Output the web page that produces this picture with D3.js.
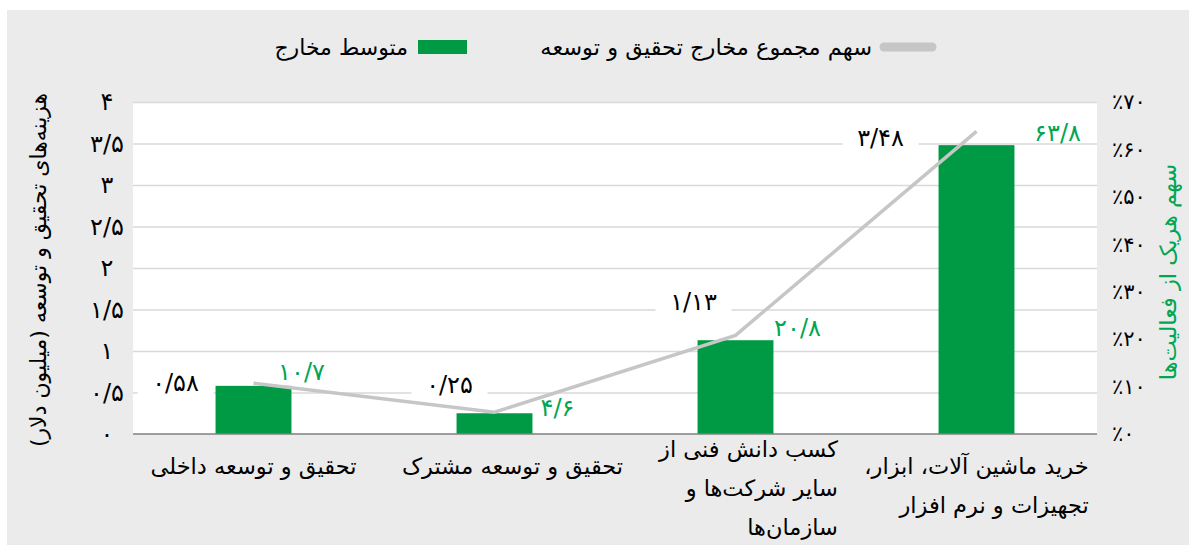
<!DOCTYPE html>
<html>
<head>
<meta charset="utf-8">
<script src="https://cdn.jsdelivr.net/npm/d3@7"></script>
<style>
  html, body { margin: 0; padding: 0; background: #fff; }
  svg { display: block; font-family: "DejaVu Sans", sans-serif; }
</style>
</head>
<body>
<svg id="chart" width="1189" height="545"></svg>
<script>
// --- داده‌ها ---
const categories = [
  ["تحقیق و توسعه داخلی"],
  ["تحقیق و توسعه مشترک"],
  ["کسب دانش فنی از", "سایر شرکت‌ها و", "سازمان‌ها"],
  ["خرید ماشین آلات، ابزار،", "تجهیزات و نرم افزار"]
];
const avgSpend = [0.58, 0.25, 1.13, 3.48];      // میلیون دلار (محور چپ)
const shareOfTotal = [10.7, 4.6, 20.8, 63.8];   // درصد (محور راست)
const leftTicks = [0, 0.5, 1, 1.5, 2, 2.5, 3, 3.5, 4];
const rightTicks = [0, 10, 20, 30, 40, 50, 60, 70];
const legendBar = "متوسط مخارج";
const legendLine = "سهم مجموع مخارج تحقیق و توسعه";
const leftTitle = "هزینه‌های تحقیق و توسعه (میلیون دلار)";
const rightTitle = "سهم هریک از فعالیت‌ها";

// جابجایی دستی برچسب‌ها (مثل فایل اکسل اصلی)
const barLabelNudge = [[-78, -3], [-45, -28], [-42, -38], [-96, -7]];
const lineLabelNudge = [[48, -11], [63, -4], [62, -7], [81, 2]];
const catLabelNudge = [0, 18, 13, 0];

const GREEN = "#009a44";
const GREEN_TEXT = "#00a651";
const LINE_GRAY = "#c6c6c6";

// تبدیل به ارقام فارسی
function fa(v) {
  return String(v).replace(".", "/").replace(/[0-9]/g, d => "۰۱۲۳۴۵۶۷۸۹"[d]);
}

const svg = d3.select("#chart");

// پس‌زمینه
svg.append("rect").attr("x", 7).attr("y", 10).attr("width", 1182).attr("height", 535).attr("fill", "#ebebeb");

const plot = { left: 133, right: 1097, top: 102, bottom: 434 };

svg.append("rect")
  .attr("x", plot.left).attr("y", plot.top)
  .attr("width", plot.right - plot.left).attr("height", plot.bottom - plot.top)
  .attr("fill", "#fff");

const x = d3.scaleBand().domain(d3.range(categories.length)).range([plot.left, plot.right]);
const yLeft = d3.scaleLinear().domain([0, 4]).range([plot.bottom, plot.top]);
const yRight = d3.scaleLinear().domain([0, 70]).range([plot.bottom, plot.top]);
const barW = x.bandwidth() * 0.315;
const cx = i => x(i) + x.bandwidth() / 2;

// خطوط شبکه
svg.append("g")
  .attr("transform", `translate(${plot.left},0)`)
  .call(d3.axisLeft(yLeft).tickValues(leftTicks.slice(1)).tickSize(-(plot.right - plot.left)).tickFormat(""))
  .call(g => g.select(".domain").remove())
  .call(g => g.selectAll("line").attr("stroke", "#d9d9d9").attr("stroke-width", 1.5));

// محور چپ
svg.append("g")
  .attr("transform", `translate(${plot.left},0)`)
  .call(d3.axisLeft(yLeft).tickValues(leftTicks).tickSize(0).tickFormat(fa))
  .call(g => g.select(".domain").remove())
  .call(g => g.selectAll("text")
    .attr("x", -26).attr("text-anchor", "middle")
    .attr("font-size", 24).attr("font-family", "DejaVu Sans").attr("fill", "#000"));

// محور راست
svg.append("g")
  .attr("transform", `translate(${plot.right},0)`)
  .call(d3.axisRight(yRight).tickValues(rightTicks).tickSize(0).tickFormat(d => "٪" + fa(d)))
  .call(g => g.select(".domain").remove())
  .call(g => g.selectAll("text")
    .attr("x", 15).attr("text-anchor", "start")
    .attr("font-size", 21).attr("font-family", "DejaVu Sans").attr("fill", "#000"));

// ستون‌ها
svg.append("g").selectAll("rect")
  .data(avgSpend)
  .join("rect")
  .attr("x", (d, i) => cx(i) - barW / 2)
  .attr("y", d => yLeft(d))
  .attr("width", barW)
  .attr("height", d => yLeft(0) - yLeft(d))
  .attr("fill", GREEN);

// خط پایه
svg.append("line")
  .attr("x1", plot.left).attr("x2", plot.right)
  .attr("y1", plot.bottom).attr("y2", plot.bottom)
  .attr("stroke", "#7f7f7f").attr("stroke-width", 1.5);

// خط سهم
svg.append("path")
  .datum(shareOfTotal)
  .attr("fill", "none")
  .attr("stroke", LINE_GRAY)
  .attr("stroke-width", 3.5)
  .attr("d", d3.line().x((d, i) => cx(i)).y(d => yRight(d)));

// برچسب ستون‌ها (سیاه با زمینه سفید)
const barLabels = svg.append("g").selectAll("g")
  .data(avgSpend)
  .join("g")
  .attr("transform", (d, i) => `translate(${cx(i) + barLabelNudge[i][0]},${yLeft(d) + barLabelNudge[i][1]})`);
barLabels.append("rect")
  .attr("x", -38).attr("y", -14).attr("width", 76).attr("height", 28).attr("fill", "#fff");
barLabels.append("text")
  .attr("text-anchor", "middle").attr("dominant-baseline", "central")
  .attr("font-size", 24).attr("fill", "#000")
  .text(d => fa(d));

// برچسب خط (سبز)
svg.append("g").selectAll("text")
  .data(shareOfTotal)
  .join("text")
  .attr("x", (d, i) => cx(i) + lineLabelNudge[i][0])
  .attr("y", (d, i) => yRight(d) + lineLabelNudge[i][1])
  .attr("text-anchor", "middle").attr("dominant-baseline", "central")
  .attr("font-size", 24).attr("fill", GREEN_TEXT)
  .text(d => fa(d));

// برچسب دسته‌ها
const lh = 39;
categories.forEach((lines, i) => {
  const g = svg.append("g");
  const firstY = Math.min(466, 527 - (lines.length - 1) * lh);
  const center = cx(i) + catLabelNudge[i];
  const texts = g.selectAll("text")
    .data(lines)
    .join("text")
    .attr("direction", "rtl")
    .attr("y", (d, j) => firstY + j * lh)
    .attr("dominant-baseline", "central")
    .attr("font-size", 22.5).attr("fill", "#000")
    .text(d => d);
  if (lines.length === 1) {
    texts.attr("x", center).attr("text-anchor", "middle");
  } else {
    const maxW = d3.max(texts.nodes(), n => n.getComputedTextLength());
    texts.attr("x", center + maxW / 2).attr("text-anchor", "start");
  }
});

// عنوان محورها
svg.append("text")
  .attr("transform", "translate(38,270) rotate(-90)")
  .attr("direction", "rtl").attr("text-anchor", "middle").attr("dominant-baseline", "central")
  .attr("font-size", 22).attr("fill", "#000")
  .text(leftTitle);

svg.append("text")
  .attr("transform", "translate(1168,272) rotate(-90)")
  .attr("direction", "rtl").attr("text-anchor", "middle").attr("dominant-baseline", "central")
  .attr("font-size", 22.5).attr("fill", GREEN_TEXT)
  .text(rightTitle);

// راهنما
const legend = svg.append("g");
legend.append("line")
  .attr("x1", 884).attr("x2", 932).attr("y1", 47).attr("y2", 47)
  .attr("stroke", LINE_GRAY).attr("stroke-width", 9).attr("stroke-linecap", "round");
legend.append("text")
  .attr("x", 872).attr("y", 47).attr("direction", "rtl").attr("text-anchor", "start")
  .attr("dominant-baseline", "central").attr("font-size", 22.5).attr("fill", "#000")
  .text(legendLine);
legend.append("rect")
  .attr("x", 418).attr("y", 40).attr("width", 49).attr("height", 14).attr("fill", GREEN);
legend.append("text")
  .attr("x", 408).attr("y", 47).attr("direction", "rtl").attr("text-anchor", "start")
  .attr("dominant-baseline", "central").attr("font-size", 22).attr("fill", "#000")
  .text(legendBar);
</script>
</body>
</html>
